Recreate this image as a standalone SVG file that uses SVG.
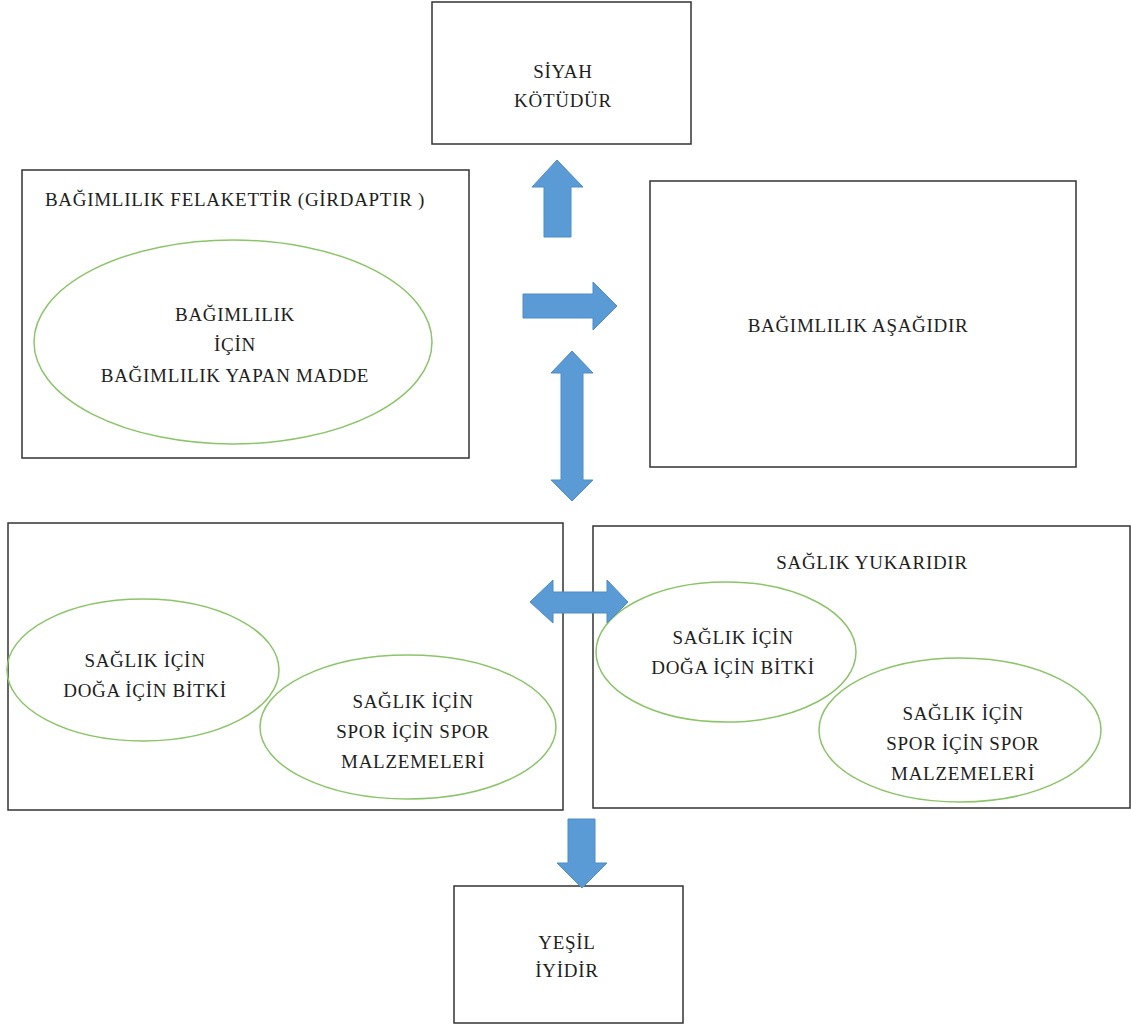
<svg xmlns="http://www.w3.org/2000/svg" width="1131" height="1028" viewBox="0 0 1131 1028">
<style>
.box{fill:#fff;stroke:#333;stroke-width:1.5}
.ell{fill:none;stroke:#8cc46a;stroke-width:1.5}
.arr{fill:#5b9bd5;stroke:#4f8cc6;stroke-width:1}
text{font-family:"Liberation Serif","Times New Roman",serif;font-size:19px;letter-spacing:0.7px;fill:#1e1e1e;text-anchor:middle}
.l{text-anchor:start}
</style>
<rect width="1131" height="1028" fill="#fff"/>
<g id="siyah">
<rect class="box" x="432" y="2" width="259" height="142"/>
<text x="563" y="78">SİYAH</text>
<text x="563" y="107">KÖTÜDÜR</text>
</g>
<g id="felaket">
<rect class="box" x="22" y="170" width="447" height="288"/>
<text class="l" x="45" y="206">BAĞIMLILIK FELAKETTİR (GİRDAPTIR )</text>
<ellipse class="ell" cx="233" cy="342" rx="199" ry="102"/>
<text x="235" y="321">BAĞIMLILIK</text>
<text x="235" y="351">İÇİN</text>
<text x="235" y="382">BAĞIMLILIK YAPAN MADDE</text>
</g>
<g id="asagi">
<rect class="box" x="650" y="181" width="426" height="286"/>
<text x="858" y="332">BAĞIMLILIK AŞAĞIDIR</text>
</g>
<g id="sol-alt">
<rect class="box" x="8" y="523" width="555" height="287"/>
<ellipse class="ell" cx="143" cy="670" rx="136" ry="71"/>
<text x="145" y="667">SAĞLIK İÇİN</text>
<text x="145" y="697">DOĞA İÇİN BİTKİ</text>
<ellipse class="ell" cx="408" cy="727" rx="148" ry="72"/>
<text x="413" y="708">SAĞLIK İÇİN</text>
<text x="413" y="738">SPOR İÇİN SPOR</text>
<text x="413" y="768">MALZEMELERİ</text>
</g>
<g id="saglik">
<rect class="box" x="593" y="526" width="537" height="282"/>
<text x="872" y="569">SAĞLIK YUKARIDIR</text>
<ellipse class="ell" cx="726" cy="652" rx="130" ry="70"/>
<text x="733" y="644">SAĞLIK İÇİN</text>
<text x="733" y="674">DOĞA İÇİN BİTKİ</text>
<ellipse class="ell" cx="960" cy="730" rx="141" ry="72"/>
<text x="963" y="720">SAĞLIK İÇİN</text>
<text x="963" y="750">SPOR İÇİN SPOR</text>
<text x="963" y="780">MALZEMELERİ</text>
</g>
<g id="yesil">
<rect class="box" x="454" y="886" width="229" height="137"/>
<text x="567" y="949">YEŞİL</text>
<text x="567" y="977">İYİDİR</text>
</g>
<g id="connectors">
<polygon class="arr" points="544,237 544,187 532,187 557,160 583,187 571,187 571,237"/>
<polygon class="arr" points="523,294 593,294 593,282 617,306 593,330 593,318 523,318"/>
<polygon class="arr" points="561,373 551,373 572,351 593,373 583,373 583,480 593,480 572,501 551,480 561,480"/>
<polygon class="arr" points="553,592 553,580 530,602 553,623 553,613 607,613 607,623 628,602 607,580 607,592"/>
<polygon class="arr" points="568,819 595,819 595,863 607,863 582,888 557,863 568,863"/>
</g>
</svg>
